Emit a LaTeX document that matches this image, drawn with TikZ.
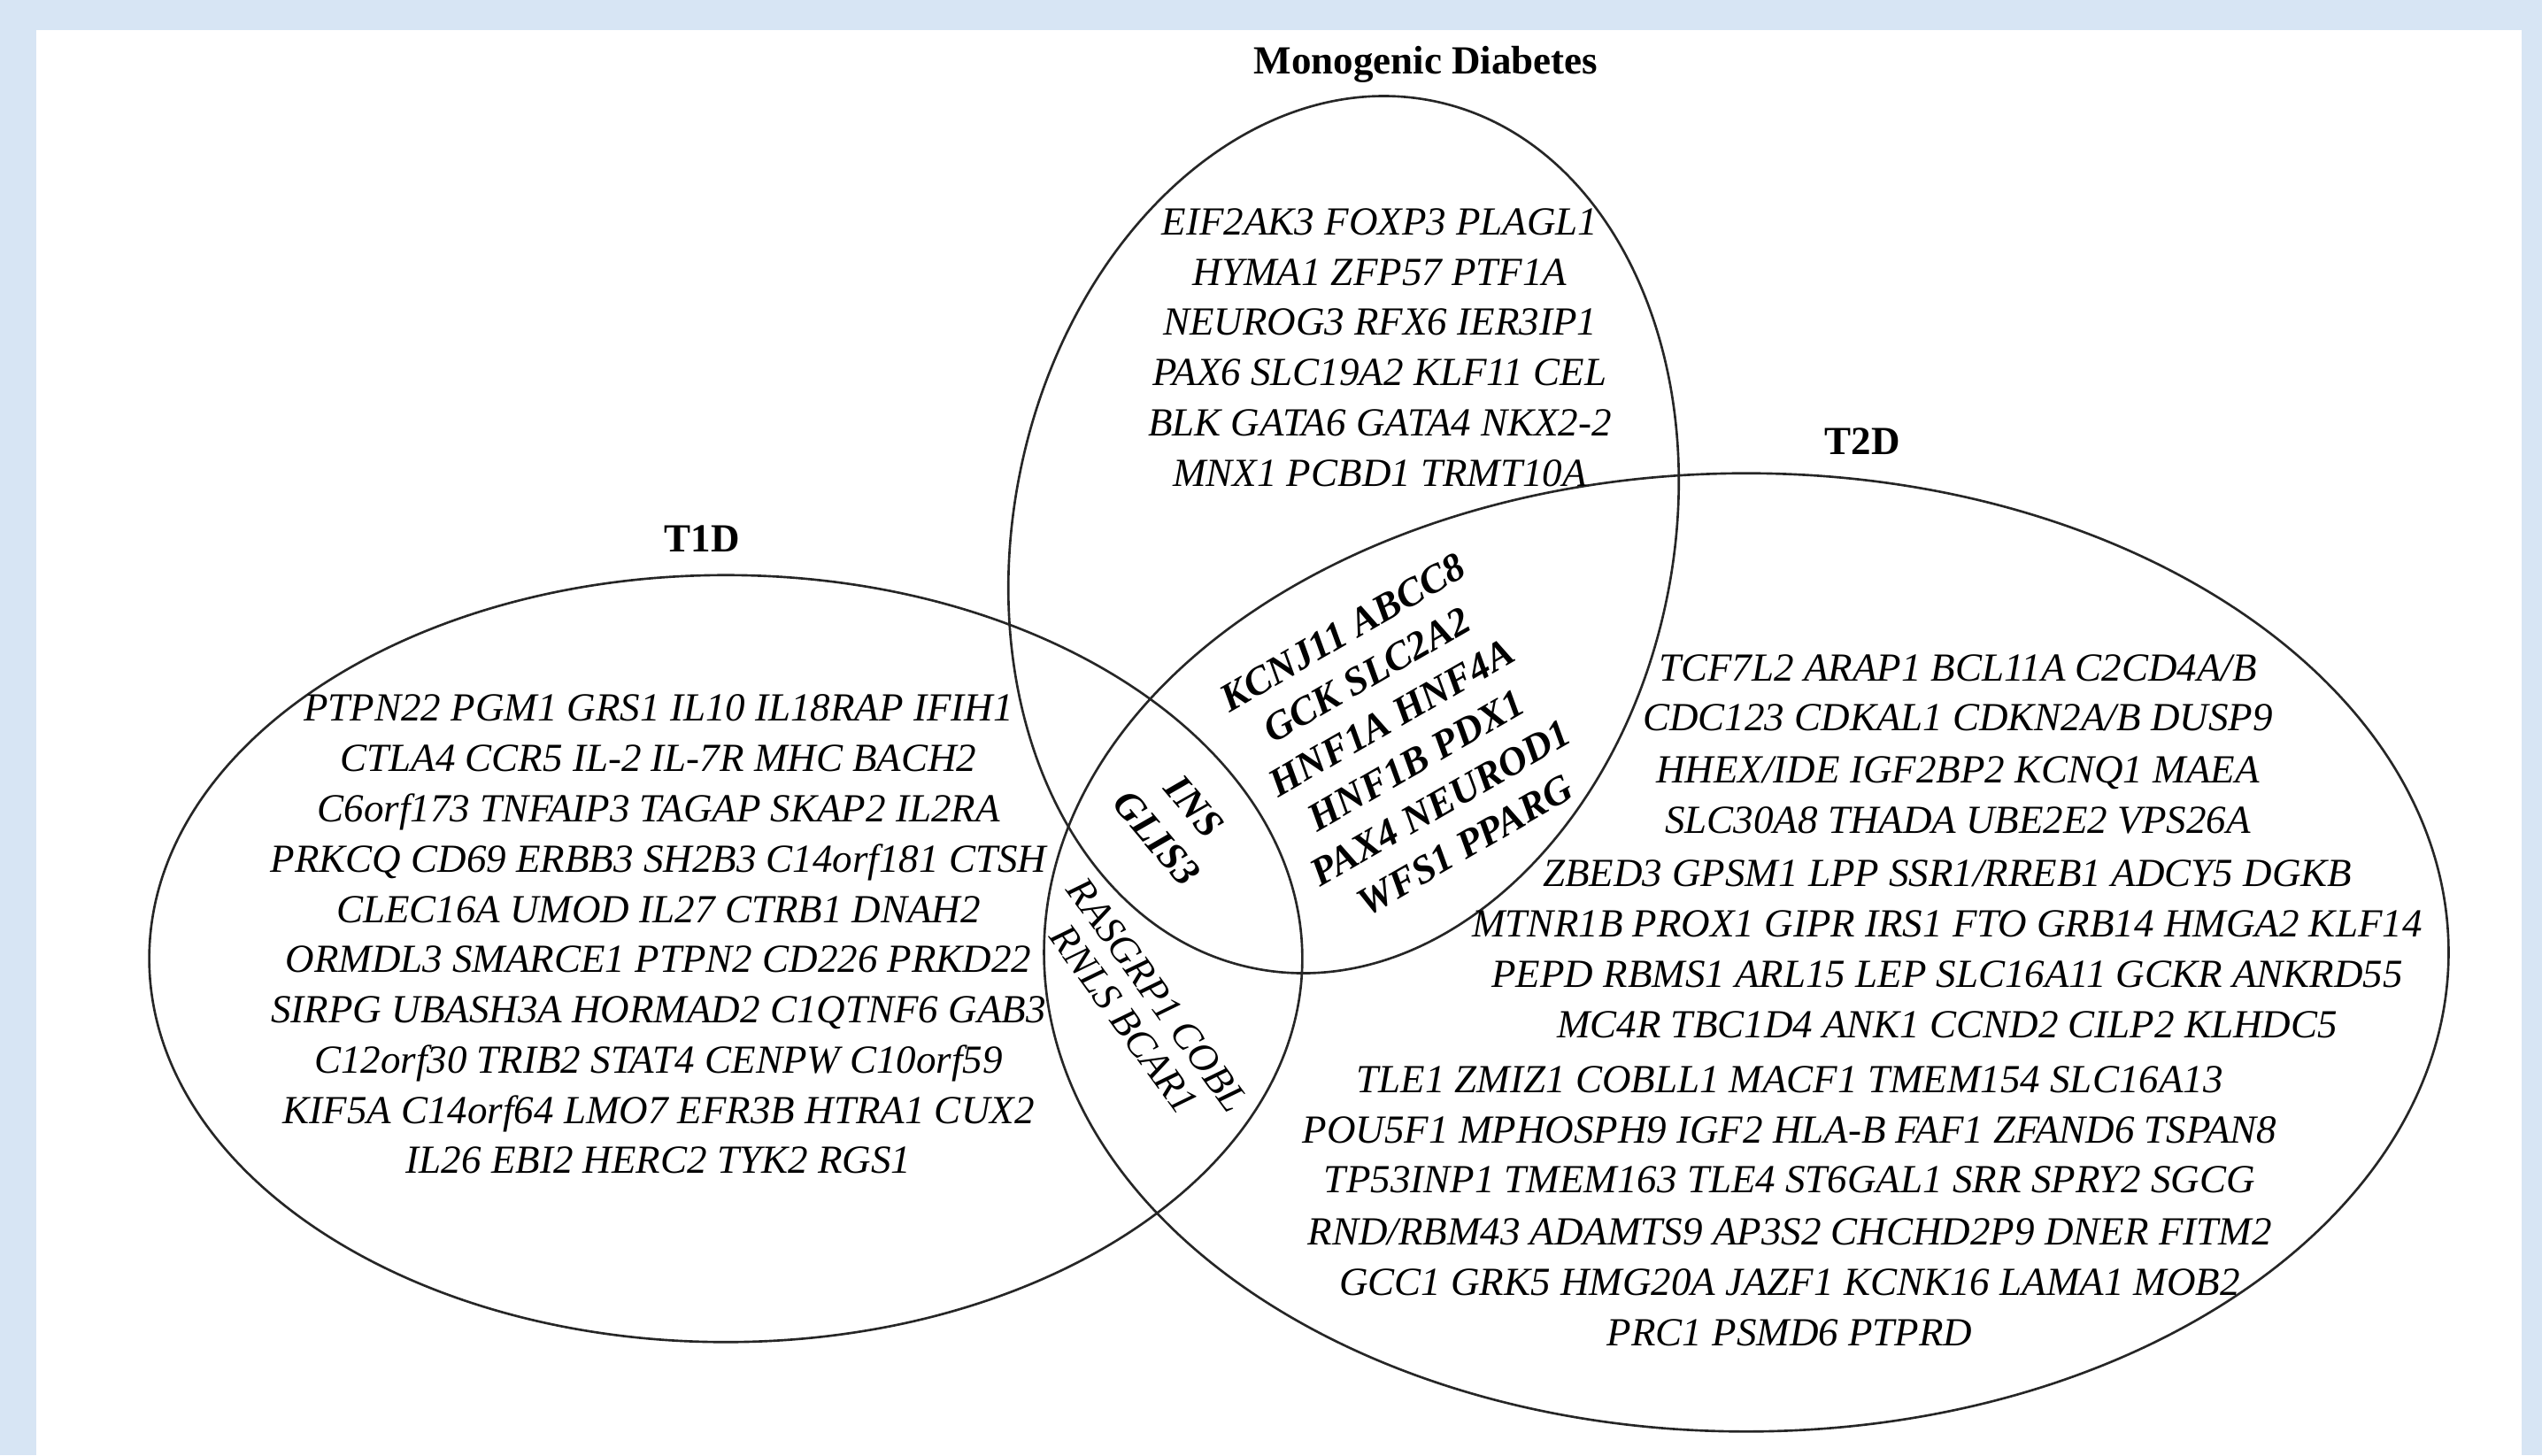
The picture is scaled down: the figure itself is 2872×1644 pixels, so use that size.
\documentclass[tikz,border=0pt]{standalone}
\usepackage{fontspec}
\setmainfont{Liberation Serif}
\usetikzlibrary{shapes.geometric}
\definecolor{bgblue}{RGB}{215,229,244}
\begin{document}
\begin{tikzpicture}[x=0.01cm,y=-0.01cm,
  setshape/.style={draw=black!85, line width=0.75pt, ellipse, inner sep=0pt, outer sep=0pt},
  gene/.style={anchor=base, inner sep=0pt, font=\fontsize{12.8}{16.2}\selectfont\itshape},
  rotgene/.style={inner sep=0pt, align=center, font=\fontsize{12.8}{15.8}\selectfont\itshape},
  rotbold/.style={inner sep=0pt, align=center, font=\fontsize{12.8}{15.8}\selectfont\bfseries\itshape},
  settitle/.style={anchor=base, inner sep=0pt, font=\fontsize{12.8}{15}\selectfont\bfseries}]
\useasboundingbox (0,0) rectangle (2872,1644);
\fill[bgblue] (0,0) rectangle (2872,1644);
\fill[white] (41,34) rectangle (2849,1644);

% sets
\node[setshape, minimum width=7.44cm, minimum height=10.0cm, rotate=-12] (mono) at (1518,604) {};
\node[setshape, minimum width=13.02cm, minimum height=8.66cm] (t1d) at (820,1083) {};
\node[setshape, minimum width=15.86cm, minimum height=10.82cm] (t2d) at (1973,1076) {};

% titles
\node[settitle] (tmono) at (1611,83) {Monogenic Diabetes};
\node[settitle] (tt1d) at (793,623) {T1D};
\node[settitle] (tt2d) at (2104,513) {T2D};

% monogenic only
\node[gene] (m1) at (1559,265) {EIF2AK3 FOXP3 PLAGL1};
\node[gene] (m2) at (1559,322) {HYMA1 ZFP57 PTF1A};
\node[gene] (m3) at (1559,378) {NEUROG3 RFX6 IER3IP1};
\node[gene] (m4) at (1559,435) {PAX6 SLC19A2 KLF11 CEL};
\node[gene] (m5) at (1559,492) {BLK GATA6 GATA4 NKX2-2};
\node[gene] (m6) at (1559,549) {MNX1 PCBD1 TRMT10A};

% T1D only
\node[gene] (a1) at (744,814) {PTPN22 PGM1 GRS1 IL10 IL18RAP IFIH1};
\node[gene] (a2) at (744,871) {CTLA4 CCR5 IL-2 IL-7R MHC BACH2};
\node[gene] (a3) at (744,928) {C6orf173 TNFAIP3 TAGAP SKAP2 IL2RA};
\node[gene] (a4) at (744,985) {PRKCQ CD69 ERBB3 SH2B3 C14orf181 CTSH};
\node[gene] (a5) at (744,1042) {CLEC16A UMOD IL27 CTRB1 DNAH2};
\node[gene] (a6) at (744,1098) {ORMDL3 SMARCE1 PTPN2 CD226 PRKD22};
\node[gene] (a7) at (744,1155) {SIRPG UBASH3A HORMAD2 C1QTNF6 GAB3};
\node[gene] (a8) at (744,1212) {C12orf30 TRIB2 STAT4 CENPW C10orf59};
\node[gene] (a9) at (744,1269) {KIF5A C14orf64 LMO7 EFR3B HTRA1 CUX2};
\node[gene] (a10) at (744,1325) {IL26 EBI2 HERC2 TYK2 RGS1};

% T2D only
\node[gene] (b1) at (2212,769) {TCF7L2 ARAP1 BCL11A C2CD4A/B};
\node[gene] (b2) at (2212,825) {CDC123 CDKAL1 CDKN2A/B DUSP9};
\node[gene] (b3) at (2212,884) {HHEX/IDE IGF2BP2 KCNQ1 MAEA};
\node[gene] (b4) at (2212,941) {SLC30A8 THADA UBE2E2 VPS26A};
\node[gene] (b5) at (2200,1001) {ZBED3 GPSM1 LPP SSR1/RREB1 ADCY5 DGKB};
\node[gene] (b6) at (2200,1058) {MTNR1B PROX1 GIPR IRS1 FTO GRB14 HMGA2 KLF14};
\node[gene] (b7) at (2200,1115) {PEPD RBMS1 ARL15 LEP SLC16A11 GCKR ANKRD55};
\node[gene] (b8) at (2200,1172) {MC4R TBC1D4 ANK1 CCND2 CILP2 KLHDC5};
\node[gene] (b9) at (2022,1234) {TLE1 ZMIZ1 COBLL1 MACF1 TMEM154 SLC16A13};
\node[gene] (b10) at (2022,1291) {POU5F1 MPHOSPH9 IGF2 HLA-B FAF1 ZFAND6 TSPAN8};
\node[gene] (b11) at (2022,1347) {TP53INP1 TMEM163 TLE4 ST6GAL1 SRR SPRY2 SGCG};
\node[gene] (b12) at (2022,1406) {RND/RBM43 ADAMTS9 AP3S2 CHCHD2P9 DNER FITM2};
\node[gene] (b13) at (2022,1463) {GCC1 GRK5 HMG20A JAZF1 KCNK16 LAMA1 MOB2};
\node[gene] (b14) at (2022,1520) {PRC1 PSMD6 PTPRD};

% overlaps
\node[rotbold, rotate=30] (mono2d) at (1586,835) {KCNJ11 ABCC8\\GCK SLC2A2\\HNF1A HNF4A\\HNF1B PDX1\\PAX4 NEUROD1\\WFS1 PPARG};
\node[rotbold, rotate=-50] (all3) at (1328,929) {INS\\GLIS3};
\node[rotgene, rotate=-54, font=\fontsize{12.8}{13.4}\selectfont\itshape] (t1t2) at (1289,1138) {RASGRP1 COBL\\RNLS BCAR1};
\end{tikzpicture}
\end{document}
